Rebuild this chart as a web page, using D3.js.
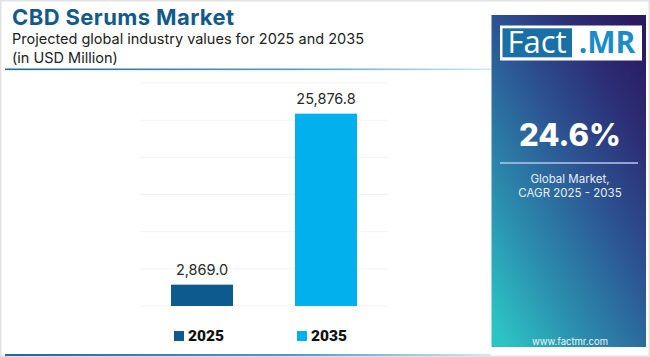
<!DOCTYPE html>
<html><head><meta charset="utf-8">
<script src="https://cdn.jsdelivr.net/npm/d3@7"></script>
<style>html,body{margin:0;padding:0;background:#fff;}svg{display:block;}</style>
</head><body>
<svg id="chart" width="650" height="357"></svg>
<script>
const categories = ["2025", "2035"];
const values = [2869.0, 25876.8];
const colors = ["#0c5a8e", "#03b0ee"];
const yTicks = [0, 5000, 10000, 15000, 20000, 25000, 30000];
const titleText = "CBD Serums Market";
const subtitleLines = ["Projected global industry values for 2025 and 2035", "(in USD Million)"];
const cagrText = "24.6%";
const cagrLines = ["Global Market,", "CAGR 2025 - 2035"];

const svg = d3.select("#chart");
const W = 650, H = 357;
const defs = svg.append("defs");

// frame
svg.append("rect").attr("x", 0.75).attr("y", 0.75).attr("width", W - 1.5).attr("height", H - 1.5)
  .attr("fill", "#fff").attr("stroke", "#e2e2e2").attr("stroke-width", 1.5);

// title
const FF = "Inter, 'Open Sans', sans-serif";
svg.append("text").attr("x", 12).attr("y", 24.5).text(titleText)
  .attr("font-family", FF).attr("font-weight", 700).attr("font-size", 22).attr("letter-spacing", 0.4).attr("fill", "#135a8a");
subtitleLines.forEach((t, i) => {
  svg.append("text").attr("x", 12).attr("y", 44 + i * 18.5).text(t)
    .attr("font-family", FF).attr("font-size", 14.5).attr("fill", "#222");
});

// separator lines
const lg = defs.append("linearGradient").attr("id", "lineGrad").attr("x1", "0").attr("x2", "1").attr("y1", "0").attr("y2", "0");
lg.append("stop").attr("offset", "0").attr("stop-color", "#1a6a9c");
lg.append("stop").attr("offset", "0.6").attr("stop-color", "#4a9fc8");
lg.append("stop").attr("offset", "1").attr("stop-color", "#cfeaf6");
svg.append("rect").attr("x", 5).attr("y", 68.5).attr("width", 486).attr("height", 1.6).attr("fill", "url(#lineGrad)");
svg.append("rect").attr("x", 5).attr("y", 354).attr("width", 486).attr("height", 2).attr("fill", "url(#lineGrad)");

// chart
const x = d3.scaleBand().domain(categories).range([140, 388]).paddingInner(0.5).paddingOuter(0.25);
const y = d3.scaleLinear().domain([0, 30000]).range([306, 83]);

svg.append("g").selectAll("line").data(yTicks).join("line")
  .attr("x1", 140).attr("x2", 388).attr("y1", d => y(d)).attr("y2", d => y(d))
  .attr("stroke", "#f3f3f6").attr("stroke-width", 1);

svg.append("g").selectAll("rect").data(values).join("rect")
  .attr("x", (d, i) => x(categories[i])).attr("width", x.bandwidth())
  .attr("y", d => y(d)).attr("height", d => y(0) - y(d))
  .attr("fill", (d, i) => colors[i]);

const fmt = d3.format(",.1f");
svg.append("g").selectAll("text").data(values).join("text")
  .attr("x", (d, i) => x(categories[i]) + x.bandwidth() / 2)
  .attr("y", d => y(d) - 10)
  .attr("text-anchor", "middle").attr("font-family", FF).attr("font-size", 14.5)
  .attr("fill", "#2a2a2a").text(d => fmt(d));

// legend
const legX = [174, 297];
categories.forEach((c, i) => {
  svg.append("rect").attr("x", legX[i]).attr("y", 331).attr("width", 10).attr("height", 10).attr("fill", colors[i]);
  svg.append("text").attr("x", legX[i] + 14).attr("y", 341).text(c)
    .attr("font-family", "Roboto, sans-serif").attr("font-weight", 900).attr("font-size", 15.5).attr("fill", "#111");
});

// right panel
const pg = defs.append("linearGradient").attr("id", "panelGrad")
  .attr("x1", "0.1").attr("y1", "1").attr("x2", "0.9").attr("y2", "0");
pg.append("stop").attr("offset", "0").attr("stop-color", "#2cc3c3");
pg.append("stop").attr("offset", "0.25").attr("stop-color", "#2b8eae");
pg.append("stop").attr("offset", "0.55").attr("stop-color", "#2c5593");
pg.append("stop").attr("offset", "0.8").attr("stop-color", "#2c2e75");
pg.append("stop").attr("offset", "1").attr("stop-color", "#2a1a62");
svg.append("rect").attr("x", 491.5).attr("y", 15).attr("width", 154.5).attr("height", 332).attr("fill", "url(#panelGrad)");

// logo
svg.append("rect").attr("x", 500).attr("y", 25.5).attr("width", 142).attr("height", 35).attr("fill", "#fff");
svg.append("rect").attr("x", 502.5).attr("y", 28.3).attr("width", 69.5).attr("height", 29).attr("fill", "#1a6fa6");
svg.append("text").attr("x", 537).attr("y", 53).attr("text-anchor", "middle").text("Fact")
  .attr("font-family", "'Open Sans', sans-serif").attr("font-size", 31).attr("fill", "#fff");
svg.append("text").attr("x", 607).attr("y", 53).attr("text-anchor", "middle").text(".MR")
  .attr("font-family", "'Open Sans', sans-serif").attr("font-weight", 700).attr("font-size", 30).attr("fill", "#1b8cca");

svg.append("text").attr("x", 570).attr("y", 146).attr("text-anchor", "middle").text(cagrText)
  .attr("font-family", FF).attr("font-weight", 800).attr("font-size", 31).attr("fill", "#fff");
svg.append("line").attr("x1", 500).attr("x2", 638).attr("y1", 163).attr("y2", 163)
  .attr("stroke", "#b8c4e6").attr("stroke-width", 1.3);
cagrLines.forEach((t, i) => {
  svg.append("text").attr("x", 570).attr("y", 183 + i * 14).attr("text-anchor", "middle").text(t)
    .attr("font-family", FF).attr("font-size", 11.5).attr("fill", "#e8eef8");
});
svg.append("text").attr("x", 570).attr("y", 345).attr("text-anchor", "middle").text("www.factmr.com")
  .attr("font-family", FF).attr("font-size", 9.5).attr("fill", "#f0f4f8");
</script>
</body></html>
